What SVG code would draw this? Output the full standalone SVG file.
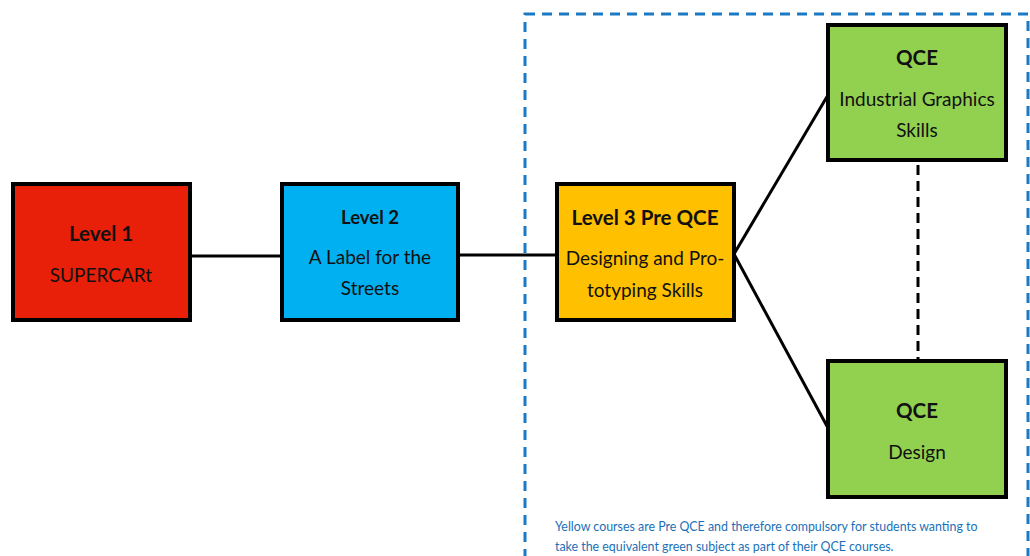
<svg xmlns="http://www.w3.org/2000/svg" width="1030" height="556" viewBox="0 0 1030 556">
<style>
.box{stroke:#000;stroke-width:4}
.t{font-family:Lato,"Liberation Sans",sans-serif;font-size:19px;fill:#111;text-anchor:middle}
.b{font-weight:bold;font-size:20.5px}
.c{stroke:#000;stroke-width:3;fill:none}
.note{font-family:Lato,"Liberation Sans",sans-serif;font-size:12.4px;fill:#1a70b8}
</style>
<rect x="525" y="14" width="503" height="560" fill="none" stroke="#1a7ac6" stroke-width="3" stroke-dasharray="10,7"/>
<g id="connectors">
<line class="c" x1="190" y1="256" x2="282" y2="256"/>
<line class="c" x1="458" y1="255" x2="557" y2="255"/>
<line class="c" x1="734" y1="254" x2="828" y2="95"/>
<line class="c" x1="734" y1="254" x2="828" y2="428"/>
<line class="c" x1="918" y1="165" x2="918" y2="360" stroke-dasharray="10,6"/>
</g>
<g id="level1">
<rect class="box" x="13" y="184" width="177" height="136" fill="#E8200A"/>
<text class="t b" x="101" y="241">Level 1</text>
<text class="t" x="101" y="282">SUPERCARt</text>
</g>
<g id="level2">
<rect class="box" x="282" y="184" width="176" height="136" fill="#00B0F0"/>
<text class="t b" x="370" y="224" style="font-size:18.5px">Level 2</text>
<text class="t" x="370" y="264">A Label for the</text>
<text class="t" x="370" y="295">Streets</text>
</g>
<g id="level3">
<rect class="box" x="557" y="184" width="177" height="136" fill="#FFC000"/>
<text class="t b" x="645" y="225">Level 3 Pre QCE</text>
<text class="t" x="645" y="265">Designing and Pro-</text>
<text class="t" x="645" y="297">totyping Skills</text>
</g>
<g id="qce-graphics">
<rect class="box" x="828" y="25" width="178" height="135" fill="#92D050"/>
<text class="t b" x="917" y="65">QCE</text>
<text class="t" x="917" y="106">Industrial Graphics</text>
<text class="t" x="917" y="137">Skills</text>
</g>
<g id="qce-design">
<rect class="box" x="828" y="361" width="178" height="136" fill="#92D050"/>
<text class="t b" x="917" y="418">QCE</text>
<text class="t" x="917" y="459">Design</text>
</g>
<g id="note">
<text class="note" x="555" y="531">Yellow courses are Pre QCE and therefore compulsory for students wanting to</text>
<text class="note" x="555" y="551">take the equivalent green subject as part of their QCE courses.</text>
</g>
</svg>
